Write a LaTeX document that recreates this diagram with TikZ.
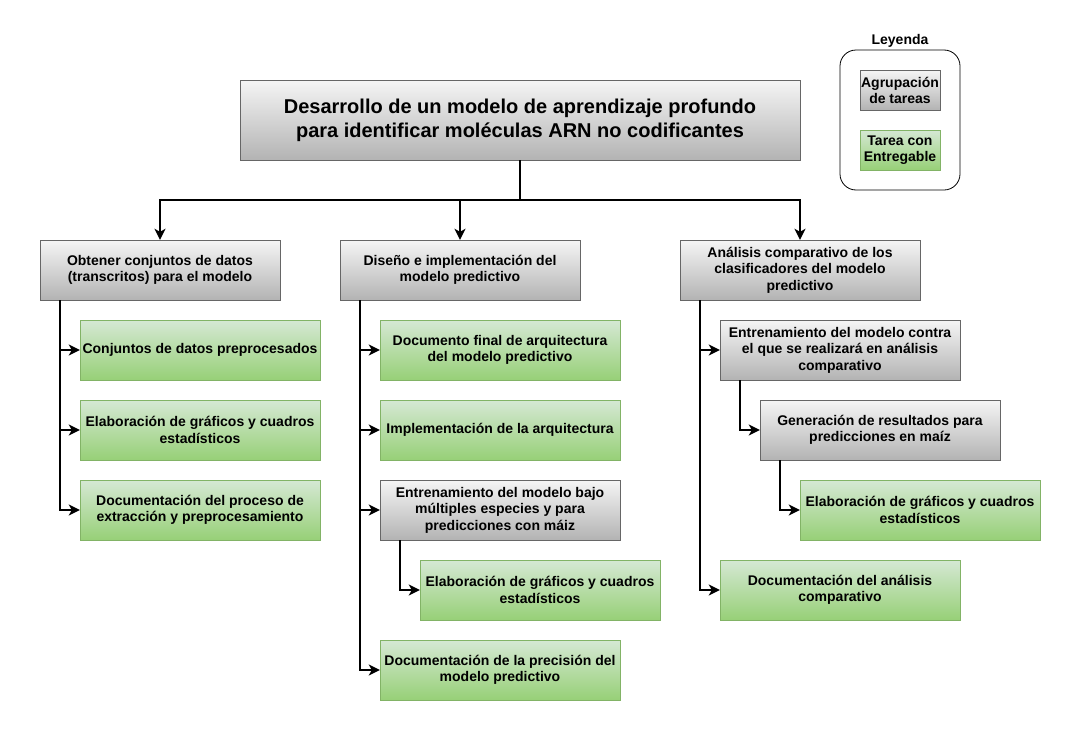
\documentclass[tikz,border=0pt]{standalone}
\usepackage{fontspec}
\setmainfont{Liberation Sans}
\usetikzlibrary{arrows.meta}
\definecolor{gtop}{HTML}{F5F5F5}
\definecolor{gbot}{HTML}{B3B3B3}
\definecolor{gline}{HTML}{666666}
\definecolor{ttop}{HTML}{D5E8D4}
\definecolor{tbot}{HTML}{97D077}
\definecolor{tline}{HTML}{82B366}
\begin{document}
\begin{tikzpicture}[x=1pt,y=-1pt,
  box/.style={minimum width=240pt, minimum height=60pt, align=center, inner sep=2pt,
    font=\bfseries\fontsize{14}{16.5}\selectfont},
  grp/.style={box, draw=gline, top color=gtop, bottom color=gbot},
  task/.style={box, draw=tline, top color=ttop, bottom color=tbot},
  conn/.style={line width=2pt, -{Stealth[length=11pt,width=11pt,inset=3pt]}},
  lgbox/.style={minimum width=80pt, minimum height=40pt, align=center, inner sep=1pt,
    font=\bfseries\fontsize{14}{16}\selectfont}
]
\fill[white] (0,0) rectangle (1082,731);
\useasboundingbox (0,0) rectangle (1082,731);

% root
\node[grp, minimum width=560pt, minimum height=80pt,
  font=\bfseries\fontsize{20}{24}\selectfont] (root) at (520,120)
  {Desarrollo de un modelo de aprendizaje profundo\\para identificar moléculas ARN no codificantes};

% level 1
\node[grp] (a) at (160,270) {Obtener conjuntos de datos\\(transcritos) para el modelo};
\node[grp] (b) at (460,270) {Diseño e implementación del\\modelo predictivo};
\node[grp] (c) at (800,270) {Análisis comparativo de los\\clasificadores del modelo\\predictivo};

\draw[conn] (root.south) -- ++(0,40) -| (a.north);
\draw[conn] (root.south) -- ++(0,40) -| (b.north);
\draw[conn] (root.south) -- ++(0,40) -| (c.north);

% column A
\node[task] (a1) at (200,350) {Conjuntos de datos preprocesados};
\node[task] (a2) at (200,430) {Elaboración de gráficos y cuadros\\estadísticos};
\node[task] (a3) at (200,510) {Documentación del proceso de\\extracción y preprocesamiento};
\foreach \t in {a1,a2,a3}
  \draw[conn] ([xshift=20pt]a.south west) |- (\t.west);

% column B
\node[task] (b1) at (500,350) {Documento final de arquitectura\\del modelo predictivo};
\node[task] (b2) at (500,430) {Implementación de la arquitectura};
\node[grp]  (b3) at (500,510) {Entrenamiento del modelo bajo\\múltiples especies y para\\predicciones con máiz};
\node[task] (b4) at (540,590) {Elaboración de gráficos y cuadros\\estadísticos};
\node[task] (b5) at (500,670) {Documentación de la precisión del\\modelo predictivo};
\foreach \t in {b1,b2,b3,b5}
  \draw[conn] ([xshift=20pt]b.south west) |- (\t.west);
\draw[conn] ([xshift=20pt]b3.south west) |- (b4.west);

% column C
\node[grp]  (c1) at (840,350) {Entrenamiento del modelo contra\\el que se realizará en análisis\\comparativo};
\node[grp]  (c2) at (880,430) {Generación de resultados para\\predicciones en maíz};
\node[task] (c3) at (920,510) {Elaboración de gráficos y cuadros\\estadísticos};
\node[task] (c4) at (840,590) {Documentación del análisis\\comparativo};
\draw[conn] ([xshift=20pt]c.south west) |- (c1.west);
\draw[conn] ([xshift=20pt]c.south west) |- (c4.west);
\draw[conn] ([xshift=20pt]c1.south west) |- (c2.west);
\draw[conn] ([xshift=20pt]c2.south west) |- (c3.west);

% legend
\node[draw, rounded corners=16pt, minimum width=120pt, minimum height=140pt, line width=0.8pt] (legend) at (900,120) {};
\node[font=\bfseries\fontsize{14}{16}\selectfont, anchor=south, inner sep=2pt] (legtitle) at (legend.north) {Leyenda};
\node[lgbox, draw=gline, top color=gtop, bottom color=gbot] (lg1) at (900,90) {Agrupación\\de tareas};
\node[lgbox, draw=tline, top color=ttop, bottom color=tbot] (lg2) at (900,150) {Tarea con\\Entregable};
\end{tikzpicture}
\end{document}
